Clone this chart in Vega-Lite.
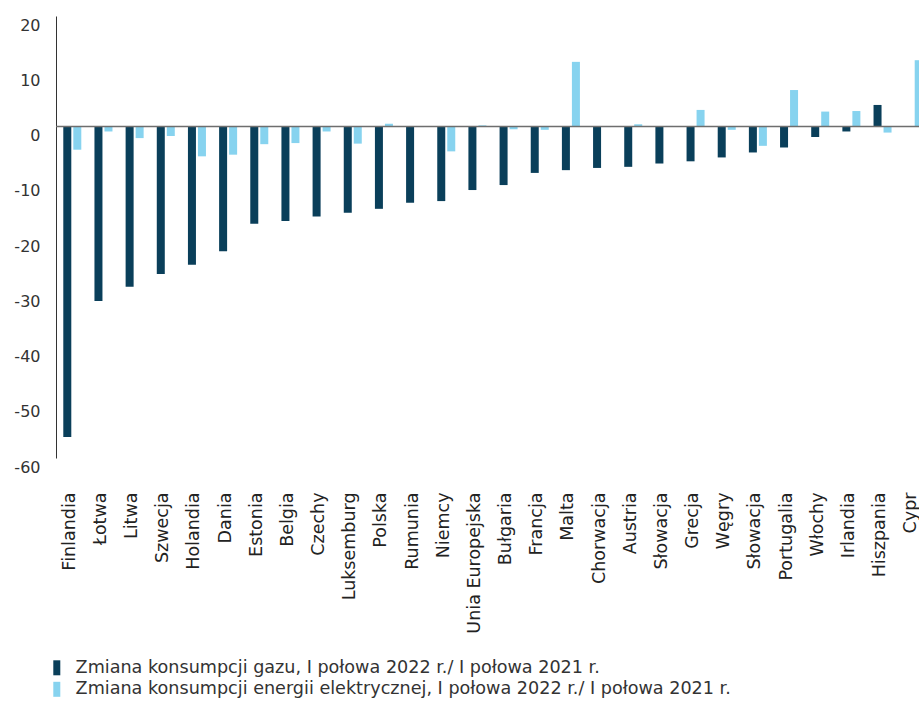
{
  "$schema": "https://vega.github.io/schema/vega-lite/v6.json",
  "autosize": {"type": "none"},
  "padding": {"left": 56, "top": 16, "right": -11, "bottom": 244},
  "width": 874,
  "height": 442,
  "background": "white",
  "config": {
    "font": "DejaVu Sans",
    "view": {"stroke": null},
    "axis": {"grid": false, "ticks": false, "labelColor": "#333333", "title": null}
  },
  "datasets": {
    "dane": [
      {"kraj": "Finlandia", "seria": "Zmiana konsumpcji gazu, I połowa 2022 r./ I połowa 2021 r.", "wartosc": -56.2},
      {"kraj": "Finlandia", "seria": "Zmiana konsumpcji energii elektrycznej, I połowa 2022 r./ I połowa 2021 r.", "wartosc": -4.2},
      {"kraj": "Łotwa", "seria": "Zmiana konsumpcji gazu, I połowa 2022 r./ I połowa 2021 r.", "wartosc": -31.6},
      {"kraj": "Łotwa", "seria": "Zmiana konsumpcji energii elektrycznej, I połowa 2022 r./ I połowa 2021 r.", "wartosc": -0.9},
      {"kraj": "Litwa", "seria": "Zmiana konsumpcji gazu, I połowa 2022 r./ I połowa 2021 r.", "wartosc": -29.0},
      {"kraj": "Litwa", "seria": "Zmiana konsumpcji energii elektrycznej, I połowa 2022 r./ I połowa 2021 r.", "wartosc": -2.1},
      {"kraj": "Szwecja", "seria": "Zmiana konsumpcji gazu, I połowa 2022 r./ I połowa 2021 r.", "wartosc": -26.7},
      {"kraj": "Szwecja", "seria": "Zmiana konsumpcji energii elektrycznej, I połowa 2022 r./ I połowa 2021 r.", "wartosc": -1.7},
      {"kraj": "Holandia", "seria": "Zmiana konsumpcji gazu, I połowa 2022 r./ I połowa 2021 r.", "wartosc": -25.0},
      {"kraj": "Holandia", "seria": "Zmiana konsumpcji energii elektrycznej, I połowa 2022 r./ I połowa 2021 r.", "wartosc": -5.4},
      {"kraj": "Dania", "seria": "Zmiana konsumpcji gazu, I połowa 2022 r./ I połowa 2021 r.", "wartosc": -22.6},
      {"kraj": "Dania", "seria": "Zmiana konsumpcji energii elektrycznej, I połowa 2022 r./ I połowa 2021 r.", "wartosc": -5.1},
      {"kraj": "Estonia", "seria": "Zmiana konsumpcji gazu, I połowa 2022 r./ I połowa 2021 r.", "wartosc": -17.6},
      {"kraj": "Estonia", "seria": "Zmiana konsumpcji energii elektrycznej, I połowa 2022 r./ I połowa 2021 r.", "wartosc": -3.2},
      {"kraj": "Belgia", "seria": "Zmiana konsumpcji gazu, I połowa 2022 r./ I połowa 2021 r.", "wartosc": -17.1},
      {"kraj": "Belgia", "seria": "Zmiana konsumpcji energii elektrycznej, I połowa 2022 r./ I połowa 2021 r.", "wartosc": -3.0},
      {"kraj": "Czechy", "seria": "Zmiana konsumpcji gazu, I połowa 2022 r./ I połowa 2021 r.", "wartosc": -16.3},
      {"kraj": "Czechy", "seria": "Zmiana konsumpcji energii elektrycznej, I połowa 2022 r./ I połowa 2021 r.", "wartosc": -0.9},
      {"kraj": "Luksemburg", "seria": "Zmiana konsumpcji gazu, I połowa 2022 r./ I połowa 2021 r.", "wartosc": -15.6},
      {"kraj": "Luksemburg", "seria": "Zmiana konsumpcji energii elektrycznej, I połowa 2022 r./ I połowa 2021 r.", "wartosc": -3.1},
      {"kraj": "Polska", "seria": "Zmiana konsumpcji gazu, I połowa 2022 r./ I połowa 2021 r.", "wartosc": -14.9},
      {"kraj": "Polska", "seria": "Zmiana konsumpcji energii elektrycznej, I połowa 2022 r./ I połowa 2021 r.", "wartosc": 0.5},
      {"kraj": "Rumunia", "seria": "Zmiana konsumpcji gazu, I połowa 2022 r./ I połowa 2021 r.", "wartosc": -13.8},
      {"kraj": "Rumunia", "seria": "Zmiana konsumpcji energii elektrycznej, I połowa 2022 r./ I połowa 2021 r.", "wartosc": -0.1},
      {"kraj": "Niemcy", "seria": "Zmiana konsumpcji gazu, I połowa 2022 r./ I połowa 2021 r.", "wartosc": -13.5},
      {"kraj": "Niemcy", "seria": "Zmiana konsumpcji energii elektrycznej, I połowa 2022 r./ I połowa 2021 r.", "wartosc": -4.5},
      {"kraj": "Unia Europejska", "seria": "Zmiana konsumpcji gazu, I połowa 2022 r./ I połowa 2021 r.", "wartosc": -11.5},
      {"kraj": "Unia Europejska", "seria": "Zmiana konsumpcji energii elektrycznej, I połowa 2022 r./ I połowa 2021 r.", "wartosc": 0.2},
      {"kraj": "Bułgaria", "seria": "Zmiana konsumpcji gazu, I połowa 2022 r./ I połowa 2021 r.", "wartosc": -10.6},
      {"kraj": "Bułgaria", "seria": "Zmiana konsumpcji energii elektrycznej, I połowa 2022 r./ I połowa 2021 r.", "wartosc": -0.5},
      {"kraj": "Francja", "seria": "Zmiana konsumpcji gazu, I połowa 2022 r./ I połowa 2021 r.", "wartosc": -8.4},
      {"kraj": "Francja", "seria": "Zmiana konsumpcji energii elektrycznej, I połowa 2022 r./ I połowa 2021 r.", "wartosc": -0.6},
      {"kraj": "Malta", "seria": "Zmiana konsumpcji gazu, I połowa 2022 r./ I połowa 2021 r.", "wartosc": -7.9},
      {"kraj": "Malta", "seria": "Zmiana konsumpcji energii elektrycznej, I połowa 2022 r./ I połowa 2021 r.", "wartosc": 11.7},
      {"kraj": "Chorwacja", "seria": "Zmiana konsumpcji gazu, I połowa 2022 r./ I połowa 2021 r.", "wartosc": -7.5},
      {"kraj": "Chorwacja", "seria": "Zmiana konsumpcji energii elektrycznej, I połowa 2022 r./ I połowa 2021 r.", "wartosc": -0.1},
      {"kraj": "Austria", "seria": "Zmiana konsumpcji gazu, I połowa 2022 r./ I połowa 2021 r.", "wartosc": -7.3},
      {"kraj": "Austria", "seria": "Zmiana konsumpcji energii elektrycznej, I połowa 2022 r./ I połowa 2021 r.", "wartosc": 0.4},
      {"kraj": "Słowacja", "seria": "Zmiana konsumpcji gazu, I połowa 2022 r./ I połowa 2021 r.", "wartosc": -6.7},
      {"kraj": "Słowacja", "seria": "Zmiana konsumpcji energii elektrycznej, I połowa 2022 r./ I połowa 2021 r.", "wartosc": 0.1},
      {"kraj": "Grecja", "seria": "Zmiana konsumpcji gazu, I połowa 2022 r./ I połowa 2021 r.", "wartosc": -6.3},
      {"kraj": "Grecja", "seria": "Zmiana konsumpcji energii elektrycznej, I połowa 2022 r./ I połowa 2021 r.", "wartosc": 3.0},
      {"kraj": "Węgry", "seria": "Zmiana konsumpcji gazu, I połowa 2022 r./ I połowa 2021 r.", "wartosc": -5.6},
      {"kraj": "Węgry", "seria": "Zmiana konsumpcji energii elektrycznej, I połowa 2022 r./ I połowa 2021 r.", "wartosc": -0.6},
      {"kraj": "Słowacja\u200b", "seria": "Zmiana konsumpcji gazu, I połowa 2022 r./ I połowa 2021 r.", "wartosc": -4.7},
      {"kraj": "Słowacja\u200b", "seria": "Zmiana konsumpcji energii elektrycznej, I połowa 2022 r./ I połowa 2021 r.", "wartosc": -3.5},
      {"kraj": "Portugalia", "seria": "Zmiana konsumpcji gazu, I połowa 2022 r./ I połowa 2021 r.", "wartosc": -3.8},
      {"kraj": "Portugalia", "seria": "Zmiana konsumpcji energii elektrycznej, I połowa 2022 r./ I połowa 2021 r.", "wartosc": 6.6},
      {"kraj": "Włochy", "seria": "Zmiana konsumpcji gazu, I połowa 2022 r./ I połowa 2021 r.", "wartosc": -1.9},
      {"kraj": "Włochy", "seria": "Zmiana konsumpcji energii elektrycznej, I połowa 2022 r./ I połowa 2021 r.", "wartosc": 2.7},
      {"kraj": "Irlandia", "seria": "Zmiana konsumpcji gazu, I połowa 2022 r./ I połowa 2021 r.", "wartosc": -0.9},
      {"kraj": "Irlandia", "seria": "Zmiana konsumpcji energii elektrycznej, I połowa 2022 r./ I połowa 2021 r.", "wartosc": 2.8},
      {"kraj": "Hiszpania", "seria": "Zmiana konsumpcji gazu, I połowa 2022 r./ I połowa 2021 r.", "wartosc": 3.9},
      {"kraj": "Hiszpania", "seria": "Zmiana konsumpcji energii elektrycznej, I połowa 2022 r./ I połowa 2021 r.", "wartosc": -1.1},
      {"kraj": "Cypr", "seria": "Zmiana konsumpcji gazu, I połowa 2022 r./ I połowa 2021 r.", "wartosc": 0.0},
      {"kraj": "Cypr", "seria": "Zmiana konsumpcji energii elektrycznej, I połowa 2022 r./ I połowa 2021 r.", "wartosc": 12.0}
    ],
    "zero": [{"y": 0}]
  },
  "layer": [
    {
      "data": {"name": "dane"},
      "mark": {"type": "bar"},
      "encoding": {
        "x": {
          "field": "kraj",
          "type": "nominal",
          "sort": null,
          "scale": {"paddingInner": 0.422, "paddingOuter": 0.234},
          "axis": {
            "domain": false,
            "labelAngle": -90,
            "labelAlign": "right",
            "labelBaseline": "middle",
            "labelPadding": 34,
            "labelOffset": -2.5,
            "labelFontSize": 17.5,
            "labelColor": "#222222"
          }
        },
        "xOffset": {
          "field": "seria",
          "type": "nominal",
          "sort": null,
          "scale": {"paddingInner": 0.2}
        },
        "y": {
          "field": "wartosc",
          "type": "quantitative",
          "scale": {"domain": [-60, 20], "nice": false, "zero": false},
          "axis": {
            "values": [-60, -50, -40, -30, -20, -10, 0, 10, 20],
            "labelExpr": "toString(datum.value)",
            "domain": true,
            "domainColor": "#333333",
            "domainWidth": 1,
            "labelPadding": 16,
            "labelOffset": 9,
            "labelFontSize": 16
          }
        },
        "color": {
          "field": "seria",
          "type": "nominal",
          "sort": null,
          "scale": {"range": ["#0a3f5a", "#87d3ef"]},
          "legend": {
            "title": null,
            "orient": "none",
            "legendX": -8,
            "legendY": 643,
            "direction": "vertical",
            "labelFontSize": 17.6,
            "labelColor": "#333333",
            "labelLimit": 900,
            "labelOffset": 10,
            "rowPadding": 2.5,
            "symbolType": "M-0.467,-1H0.467V1H-0.467Z",
            "symbolSize": 225,
            "symbolStrokeWidth": 0
          }
        }
      }
    },
    {
      "data": {"name": "zero"},
      "mark": {"type": "rule", "color": "#6e6e6e", "strokeWidth": 1.5},
      "encoding": {
        "y": {"field": "y", "type": "quantitative"}
      }
    }
  ]
}
